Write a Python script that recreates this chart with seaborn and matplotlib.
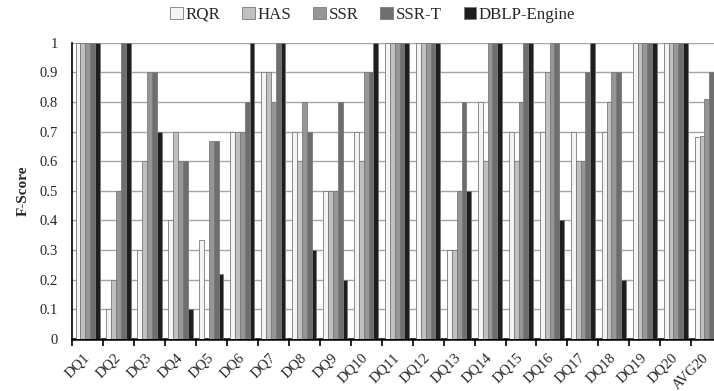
import matplotlib
matplotlib.use('Agg')
import matplotlib.pyplot as plt
import pandas as pd
import seaborn as sns
import numpy as np

queries = ['DQ1', 'DQ2', 'DQ3', 'DQ4', 'DQ5', 'DQ6', 'DQ7', 'DQ8', 'DQ9', 'DQ10',
           'DQ11', 'DQ12', 'DQ13', 'DQ14', 'DQ15', 'DQ16', 'DQ17', 'DQ18', 'DQ19', 'DQ20', 'AVG20']
methods = ['RQR', 'HAS', 'SSR', 'SSR-T', 'DBLP-Engine']

rqr = [1, 0.1, 0.3, 0.4, 0.333, 0.7, 0.9, 0.7, 0.5, 0.7, 1, 1, 0.3, 0.8, 0.7, 0.7, 0.7, 0.7, 1, 1, 0.68]
has = [1, 0.2, 0.6, 0.7, 0.0, 0.7, 0.9, 0.6, 0.5, 0.6, 1, 1, 0.3, 0.6, 0.6, 0.9, 0.6, 0.8, 1, 1, 0.685]
ssr = [1, 0.5, 0.9, 0.6, 0.667, 0.7, 0.8, 0.8, 0.5, 0.9, 1, 1, 0.5, 1, 0.8, 1, 0.6, 0.9, 1, 1, 0.81]
ssr_t = [1, 1, 0.9, 0.6, 0.667, 0.8, 1, 0.7, 0.8, 0.9, 1, 1, 0.8, 1, 1, 1, 0.9, 0.9, 1, 1, 0.9]
dblp = [1, 1, 0.7, 0.1, 0.22, 1, 1, 0.3, 0.2, 1, 1, 1, 0.5, 1, 1, 0.4, 1, 0.2, 1, 1, 0.73]

colors = ['#f4f4f4', '#c0c0c0', '#969696', '#6e6e6e', '#1e1e1e']

rows = []
for m, vals in zip(methods, [rqr, has, ssr, ssr_t, dblp]):
    for q, v in zip(queries, vals):
        rows.append({'query': q, 'method': m, 'score': v})
df = pd.DataFrame(rows)

sns.set_style('white')
plt.rcParams['font.family'] = ['Liberation Serif', 'DejaVu Serif']

fig = plt.figure(figsize=(7.14, 3.91), dpi=100)
ax = fig.add_axes([0.101, 0.133, 0.899, 0.758])

sns.barplot(data=df, x='query', y='score', hue='method', order=queries, hue_order=methods,
            palette=colors, width=0.78, edgecolor='#7a7a7a', linewidth=0.6, ax=ax, zorder=3)

ax.set_yticks(np.arange(0, 1.01, 0.1))
ax.set_yticklabels(['0', '0.1', '0.2', '0.3', '0.4', '0.5', '0.6', '0.7', '0.8', '0.9', '1'])
ax.yaxis.grid(True, color='#a6a6a6', linewidth=1.0, zorder=0)
ax.set_axisbelow(True)

ax.set_xticks(range(len(queries)))
ax.set_xticklabels(queries, rotation=45, ha='right', va='center', rotation_mode='anchor')
ax.set_xticks(np.arange(-0.5, 20.0, 1), minor=True)
ax.tick_params(axis='x', which='major', length=0, pad=12, labelsize=10.5)
ax.tick_params(axis='x', which='minor', length=5, width=1.2, color='black', direction='out', bottom=True)
ax.tick_params(axis='y', length=0, labelsize=10.5, pad=10)

# the picture is cropped just before the last bar of AVG20
ax.set_ylim(0, 1)
ax.set_xlim(-0.5, 20.234)

for s in ['top', 'right']:
    ax.spines[s].set_visible(False)
ax.spines['left'].set_color('black')
ax.spines['left'].set_linewidth(1.2)
ax.spines['bottom'].set_color('black')
ax.spines['bottom'].set_linewidth(1.8)

ax.set_xlabel('')
ax.set_ylabel('F-Score', fontweight='bold', fontsize=11, labelpad=7)

handles, labels = ax.get_legend_handles_labels()
ax.get_legend().remove()
fig.legend(handles, labels, loc='center', bbox_to_anchor=(0.522, 0.962), ncol=5, frameon=False,
           fontsize=12.2, handlelength=0.75, handleheight=0.75, handletextpad=0.15, columnspacing=1.3)

fig.savefig('out.png', dpi=100)
